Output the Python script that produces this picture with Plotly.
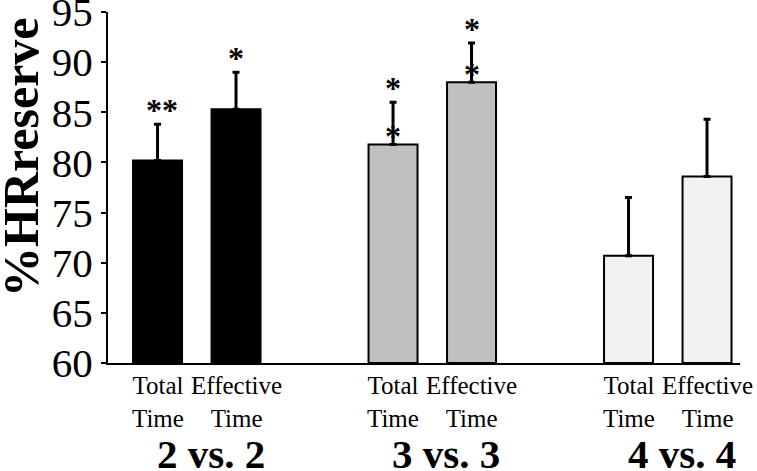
import plotly.graph_objects as go

groups = ["2 vs. 2", "3 vs. 3", "4 vs. 4"]
conditions = ["Total<br>Time", "Effective<br>Time"]
hr_reserve = [[80.2, 85.3], [81.8, 88.0], [70.7, 78.6]]
sd_upper = [[3.6, 3.7], [4.2, 3.9], [5.8, 5.7]]
sig_top = [["**", "*"], ["*", "*"], ["", ""]]
sig_low = [["", ""], ["*", "*"], ["", ""]]
group_fill = ["#000000", "#c0c0c0", "#f2f2f2"]
y_ticks = [60, 65, 70, 75, 80, 85, 90, 95]

SERIF = "Liberation Serif, Times New Roman, serif"
T, B = 12, 108
PH = 471 - T - B


def py(px):
    """pixel row -> paper y"""
    return (471 - B - px) / PH


fig = go.Figure()
annotations = []
for gi, g in enumerate(groups):
    xs = [gi * 3 + ci for ci in range(len(conditions))]
    fig.add_trace(go.Bar(
        x=xs, y=[v - 60 for v in hr_reserve[gi]], base=60,
        width=0.624,
        marker=dict(color=group_fill[gi], line=dict(color="black", width=2)),
        error_y=dict(type="data", symmetric=False, array=sd_upper[gi],
                     arrayminus=[0] * len(xs), color="black", thickness=3, width=3.5),
        showlegend=False, hoverinfo="skip",
    ))
    for ci, x in enumerate(xs):
        top = hr_reserve[gi][ci] + sd_upper[gi][ci]
        annotations.append(dict(x=x, y=py(402), xref="x", yref="paper", text=conditions[ci],
                                showarrow=False, yanchor="middle", xanchor="center",
                                font=dict(family=SERIF, size=25, color="black")))
        if sig_top[gi][ci]:
            annotations.append(dict(x=x, y=top, xref="x", yref="y", text="<b>%s</b>" % sig_top[gi][ci],
                                    showarrow=False, yanchor="middle", yshift=14,
                                    xshift=4 if len(sig_top[gi][ci]) > 1 else 0,
                                    font=dict(family=SERIF, size=32, color="black")))
        if sig_low[gi][ci]:
            annotations.append(dict(x=x, y=hr_reserve[gi][ci], xref="x", yref="y",
                                    text="<b>%s</b>" % sig_low[gi][ci], showarrow=False, yanchor="middle",
                                    yshift=8, font=dict(family=SERIF, size=32, color="black")))
    annotations.append(dict(x=gi * 3 + 0.5, y=py(454), xref="x", yref="paper", text="<b>%s</b>" % g,
                            showarrow=False, xshift=14, yanchor="middle",
                            font=dict(family=SERIF, size=41, color="black")))

annotations.append(dict(x=(21 - 108) / 632, y=py(157), xref="paper", yref="paper", text="<b>%HRreserve</b>",
                        textangle=-90, showarrow=False, xanchor="center", yanchor="middle",
                        font=dict(family=SERIF, size=50, color="black")))

fig.update_layout(
    width=757, height=471,
    margin=dict(l=108, r=17, t=T, b=B),
    paper_bgcolor="white", plot_bgcolor="white",
    annotations=annotations,
    xaxis=dict(range=[-0.631, 7.42], showticklabels=False,
               showline=True, linecolor="black", linewidth=2, ticks="",
               showgrid=False, zeroline=False, automargin=False),
    yaxis=dict(range=[60, 95], tickvals=y_ticks, showline=True, linecolor="black", linewidth=2,
               ticks="outside", ticklen=5, tickwidth=2, tickcolor="black",
               showgrid=False, zeroline=False, automargin=False, ticklabeloverflow="allow",
               tickfont=dict(family=SERIF, size=41, color="black")),
)

fig.write_html("out.html", config={"displayModeBar": False},
               post_script="document.body.style.margin='0';")
